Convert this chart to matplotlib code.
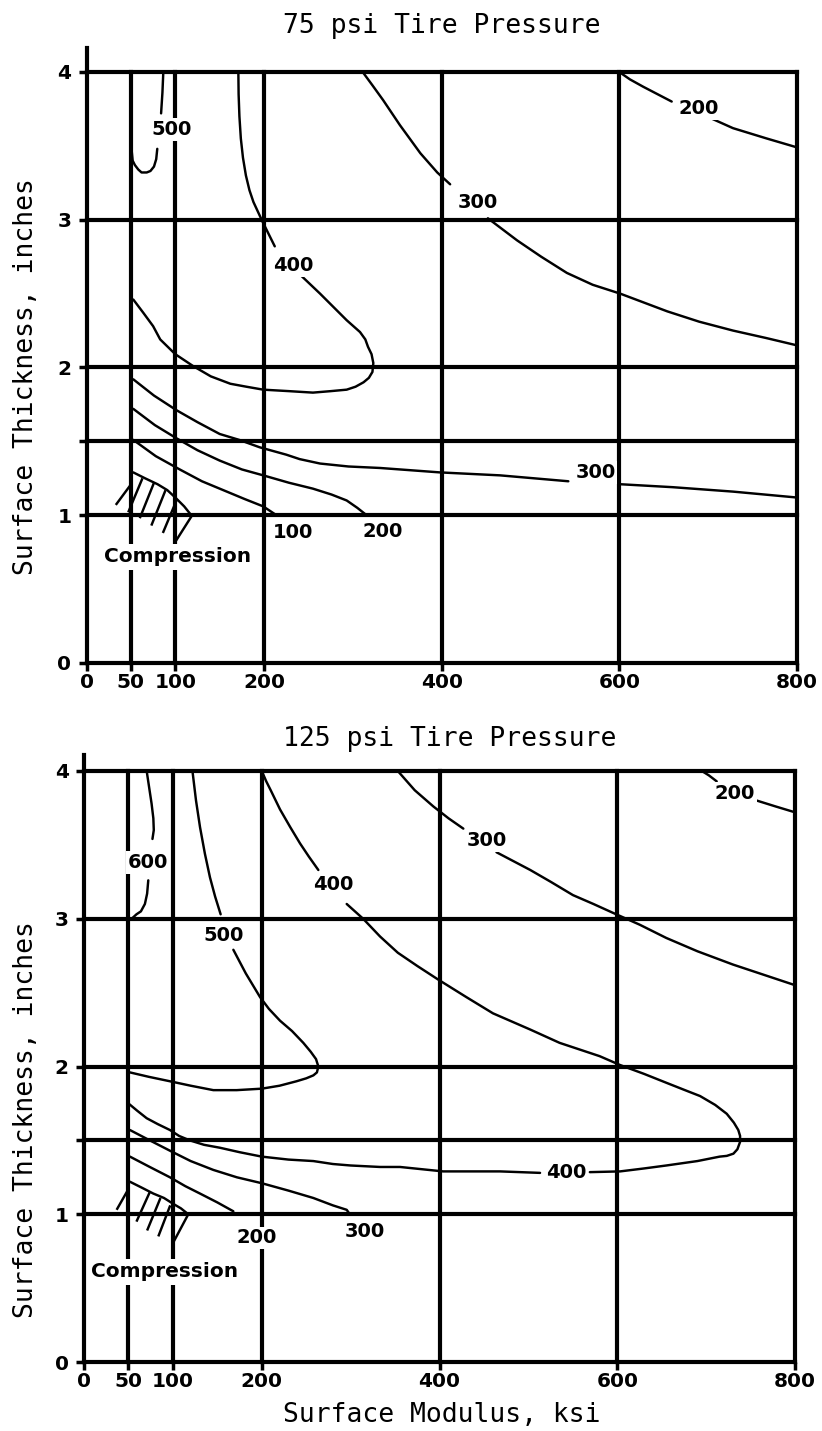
import matplotlib
matplotlib.use("Agg")
import matplotlib.pyplot as plt

# ---------------------------------------------------------------
# Axis values
# ---------------------------------------------------------------
modulus_ticks = [0, 50, 100, 200, 400, 600, 800]
modulus_grid = [50, 100, 200, 400, 600, 800]
thickness_ticks = [0, 1, 1.5, 2, 3, 4]
thickness_ticklabels = ["0", "1", "", "2", "3", "4"]
thickness_grid = [1, 1.5, 2, 3, 4]
pressures = [75, 125]

# ---------------------------------------------------------------
# 75 psi contours: pieces of (modulus ksi, thickness in)
# ---------------------------------------------------------------
p75_c500 = [
    [(86.5, 4.0), (85.5, 3.86), (84, 3.72)],
    [(79.7, 3.48), (78.5, 3.41), (76, 3.36), (72, 3.33), (67.8, 3.32), (62, 3.32),
     (58.3, 3.34), (54.5, 3.37), (52, 3.40), (51, 3.46)],
]
p75_c400 = [
    [(171, 4.0), (171.3, 3.85), (172.2, 3.70), (173.8, 3.55), (176.2, 3.42),
     (179.5, 3.30), (183.5, 3.20), (188, 3.12), (198, 2.99), (212, 2.82)],
    [(242, 2.62), (263, 2.50), (293, 2.32), (308, 2.24), (314, 2.19), (317, 2.14),
     (321, 2.09), (323, 2.03), (322, 1.97), (318, 1.93), (312, 1.90), (303, 1.87),
     (293, 1.85), (275, 1.84), (255, 1.83), (228, 1.84), (199, 1.85), (180, 1.87),
     (162, 1.89), (140, 1.94), (120, 2.01), (100, 2.09), (83, 2.19), (75, 2.28),
     (64, 2.37), (52.7, 2.46)],
]
p75_c300_upper = [
    [(311, 4.0), (322, 3.91), (334, 3.81), (353, 3.64), (376, 3.45), (395, 3.32), (409.5, 3.24)],
    [(452, 3.01), (485, 2.86), (512, 2.75), (541, 2.64), (570, 2.56), (601, 2.50),
     (654, 2.38), (690, 2.31), (728, 2.25), (765, 2.20), (800, 2.15)],
]
p75_c200_upper = [
    [(600, 4.0), (612, 3.95), (627, 3.90), (643, 3.85), (659, 3.80)],
    [(702, 3.69), (728, 3.62), (766, 3.55), (800, 3.49)],
]
p75_c300_lower = [
    [(800, 1.12), (728, 1.16), (660, 1.19), (601, 1.21)],
    [(542.6, 1.23), (465.7, 1.27), (398, 1.29), (353, 1.31), (330.5, 1.32), (295, 1.33),
     (263, 1.35), (240, 1.38), (225, 1.41), (195, 1.46), (172, 1.51), (150, 1.55),
     (125, 1.63), (101.6, 1.71), (76, 1.81), (52.7, 1.92)],
]
p75_c200_lower = [
    [(52.7, 1.72), (77, 1.61), (101.6, 1.52), (125, 1.44), (150, 1.37), (175, 1.31),
     (199, 1.27), (228, 1.22), (255, 1.18), (276, 1.14), (293, 1.10), (305, 1.05),
     (315.5, 1.0)],
]
p75_c100 = [
    [(52.7, 1.51), (78, 1.40), (105, 1.31), (130, 1.23), (154, 1.17), (178, 1.11),
     (199, 1.06), (214, 1.0)],
]
p75_compression_edge = [(52.7, 1.29), (66, 1.25), (80, 1.21), (91, 1.17), (100, 1.12),
                        (110, 1.06), (118, 1.0)]
p75_hatch = [
    ((33, 1.07), (49, 1.20)), ((47, 1.02), (63, 1.25)), ((60, 0.98), (76, 1.22)),
    ((73, 0.93), (89, 1.17)), ((86, 0.88), (102, 1.11)), ((100, 0.82), (119, 1.0)),
]
# (level, label x, label y)
p75_labels = [
    (500, 96, 3.61), (400, 233, 2.69), (300, 441, 3.12), (200, 689, 3.75),
    (300, 573, 1.29), (100, 232.5, 0.88), (200, 334, 0.89),
]
p75_compression_at = (103, 0.72)

# ---------------------------------------------------------------
# 125 psi contours
# ---------------------------------------------------------------
p125_c600 = [
    [(70.5, 4.0), (73.5, 3.88), (76, 3.78), (78, 3.68), (78.5, 3.60), (77, 3.54)],
    [(72.3, 3.26), (71, 3.17), (68.5, 3.10), (64, 3.05), (59, 3.03), (53.6, 3.0)],
]
p125_c500 = [
    [(122, 4.0), (126, 3.80), (130.5, 3.62), (136, 3.44), (141.7, 3.28), (147.5, 3.15),
     (153.7, 3.03)],
    [(168, 2.79), (182, 2.63), (198, 2.47), (208, 2.39), (220.5, 2.31), (234, 2.24),
     (246.7, 2.16), (255, 2.10), (261, 2.05), (263.6, 2.0), (262, 1.96), (258, 1.94),
     (250, 1.92), (239, 1.90), (220, 1.87), (200, 1.85), (171.7, 1.84), (145.5, 1.84),
     (120, 1.87), (96.7, 1.90), (73, 1.93), (51.7, 1.96)],
]
p125_c400 = [
    [(200, 4.0), (205, 3.93), (210, 3.87), (220.5, 3.74), (232, 3.62), (243, 3.51),
     (253, 3.42), (263.6, 3.33)],
    [(295.5, 3.10), (314, 3.0), (333, 2.88), (353, 2.77), (375, 2.68), (398, 2.59),
     (430, 2.47), (460, 2.36), (502, 2.25), (535, 2.16), (580, 2.07), (603, 2.01),
     (630, 1.95), (655, 1.89), (676, 1.84), (693, 1.80), (710, 1.74), (723, 1.68),
     (731, 1.62), (736, 1.57), (738, 1.53), (738, 1.49), (735, 1.44), (730.5, 1.41),
     (723, 1.395), (715, 1.39), (690, 1.36), (655, 1.33), (630, 1.31), (603, 1.29),
     (569, 1.285)],
    [(513, 1.28), (468, 1.29), (404, 1.29), (355.5, 1.32), (333, 1.32), (300, 1.33),
     (280, 1.34), (258, 1.36), (230, 1.37), (200, 1.39), (175, 1.42), (153, 1.45),
     (135, 1.47), (119, 1.50), (107, 1.53), (96.7, 1.57), (83, 1.61), (70.5, 1.65),
     (60, 1.70), (50, 1.75)],
]
p125_c300_upper = [
    [(353, 4.0), (372, 3.87), (393, 3.76), (410, 3.68), (426.7, 3.61)],
    [(464, 3.45), (502, 3.33), (525, 3.25), (550, 3.16), (573, 3.10), (595, 3.04),
     (625, 2.96), (655, 2.87), (690, 2.78), (730, 2.69), (765, 2.62), (800, 2.55)],
]
p125_c200_upper = [
    [(695, 4.0), (703, 3.97), (711.7, 3.93)],
    [(756.7, 3.80), (778, 3.76), (800, 3.72)],
]
p125_c300_lower = [
    [(51.7, 1.57), (74, 1.50), (96.7, 1.43), (120, 1.36), (145.5, 1.30), (172, 1.25),
     (200, 1.21), (230, 1.16), (258, 1.11), (280, 1.06), (295.5, 1.03), (299, 1.0)],
]
p125_c200_lower = [
    [(51.7, 1.39), (74, 1.32), (96.7, 1.25), (114, 1.19), (130.5, 1.14), (150, 1.08),
     (168, 1.02)],
]
p125_compression_edge = [(51.7, 1.22), (65, 1.18), (78, 1.14), (90, 1.11), (100.5, 1.07),
                         (109, 1.04), (117.3, 1.0)]
p125_hatch = [
    ((36.7, 1.03), (49, 1.16)), ((59, 0.95), (74, 1.15)), ((71, 0.89), (86, 1.11)),
    ((83.6, 0.85), (97, 1.06)), ((100.5, 0.81), (117.3, 1.0)),
]
p125_labels = [
    (600, 72, 3.38), (500, 156.7, 2.89), (400, 280.4, 3.23), (300, 453, 3.53),
    (200, 732, 3.85), (400, 542, 1.28), (200, 194, 0.84), (300, 316, 0.88),
]
p125_compression_at = (91, 0.61)

# ---------------------------------------------------------------
# Drawing
# ---------------------------------------------------------------
W, H = 822, 1431
fig = plt.figure(figsize=(W / 100, H / 100), dpi=100)
fig.patch.set_facecolor("white")

MONO = "DejaVu Sans Mono"
SANS = "DejaVu Sans"
GRID_LW = 3.0
CURVE_LW = 1.75

panels = [
    dict(rect=[86.5 / W, 1 - 663 / H, 710.4 / W, 615 / H], ytop=615 / 147.75,
         curves=[p75_c500, p75_c400, p75_c300_upper, p75_c200_upper,
                 p75_c300_lower, p75_c200_lower, p75_c100],
         edge=p75_compression_edge, hatch=p75_hatch, labels=p75_labels,
         comp=p75_compression_at, title_y=1 - 33 / H, ylab_y=1 - 376.5 / H),
    dict(rect=[84 / W, 1 - 1362 / H, 711.2 / W, 607 / H], ytop=607 / 147.75,
         curves=[p125_c600, p125_c500, p125_c400, p125_c300_upper, p125_c200_upper,
                 p125_c300_lower, p125_c200_lower],
         edge=p125_compression_edge, hatch=p125_hatch, labels=p125_labels,
         comp=p125_compression_at, title_y=1 - 746 / H, ylab_y=1 - 1120 / H),
]

for psi, pnl in zip(pressures, panels):
    ax = fig.add_axes(pnl["rect"])
    ax.set_xlim(0, 800)
    ax.set_ylim(0, pnl["ytop"])
    for side in ("top", "right"):
        ax.spines[side].set_visible(False)
    for side in ("left", "bottom"):
        ax.spines[side].set_linewidth(GRID_LW)
        ax.spines[side].set_capstyle("projecting")

    # heavy grid
    vl = ax.vlines(modulus_grid, 0, 4, colors="black", linewidth=GRID_LW,
                   clip_on=False, zorder=2)
    hl = ax.hlines(thickness_grid, 0, 800, colors="black", linewidth=GRID_LW,
                   clip_on=False, zorder=2)
    vl.set_capstyle("projecting")
    hl.set_capstyle("projecting")

    # ticks
    ax.set_xticks(modulus_ticks)
    ax.set_xticklabels([str(v) for v in modulus_ticks])
    ax.set_yticks(thickness_ticks)
    ax.set_yticklabels(thickness_ticklabels)
    ax.tick_params(axis="both", direction="out", length=6, width=2.5,
                   labelsize=14.5, color="black")
    ax.tick_params(axis="x", pad=1.5)
    ax.tick_params(axis="y", pad=5)
    for lab in ax.get_xticklabels() + ax.get_yticklabels():
        lab.set_fontweight("bold")
        lab.set_family(SANS)

    # contour traces
    for curve in pnl["curves"]:
        for piece in curve:
            xs = [p[0] for p in piece]
            ys = [p[1] for p in piece]
            ax.plot(xs, ys, color="black", linewidth=CURVE_LW, clip_on=False,
                    solid_capstyle="round", solid_joinstyle="round", zorder=3)

    # compression zone
    ex = [p[0] for p in pnl["edge"]]
    ey = [p[1] for p in pnl["edge"]]
    ax.plot(ex, ey, color="black", linewidth=CURVE_LW, clip_on=False,
            solid_capstyle="round", solid_joinstyle="round", zorder=3)
    for (x0, y0), (x1, y1) in pnl["hatch"]:
        ax.plot([x0, x1], [y0, y1], color="black", linewidth=CURVE_LW,
                clip_on=False, solid_capstyle="butt", zorder=3)

    # contour labels
    for level, lx, ly in pnl["labels"]:
        ax.text(lx, ly, str(level), ha="center", va="center", fontsize=14,
                fontweight="bold", family=SANS, zorder=6,
                bbox=dict(facecolor="white", edgecolor="none", pad=1.2))
    cx, cy = pnl["comp"]
    ax.text(cx, cy, "Compression", ha="center", va="center", fontsize=14.5,
            fontweight="bold", family=SANS, zorder=6,
            bbox=dict(facecolor="white", edgecolor="none", pad=2.5))

    # titles and axis label
    fig.text(283 / W, pnl["title_y"], f"{psi} psi Tire Pressure", ha="left",
             va="baseline", family=MONO, fontsize=19)
    fig.text(26 / W, pnl["ylab_y"], "Surface Thickness, inches", rotation=90,
             ha="center", va="center", family=MONO, fontsize=19)

fig.text(283 / W, 1 - 1422 / H, "Surface Modulus, ksi", ha="left", va="baseline",
         family=MONO, fontsize=19)

fig.savefig("out.png", dpi=100, facecolor="white")
